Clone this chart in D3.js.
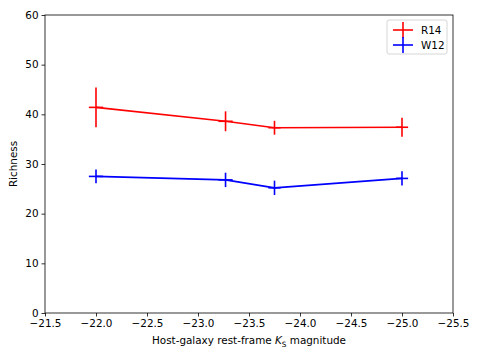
<!DOCTYPE html>
<html>
<head>
<meta charset="utf-8">
<script src="https://cdn.jsdelivr.net/npm/d3@7"></script>
<style>
body { margin: 0; background: #fff; }
text { font-family: "DejaVu Sans", sans-serif; }
</style>
</head>
<body>
<svg id="chart" width="479" height="360"></svg>
<script>
'use strict';
// data
var magnitudes = [-22.0, -23.27, -23.75, -25.0];
var magErr = [0.07, 0.07, 0.06, 0.06];
var r14 = [41.4, 38.6, 37.3, 37.4];
var r14Err = [4.0, 2.0, 1.4, 1.9];
var w12 = [27.5, 26.8, 25.2, 27.1];
var w12Err = [1.4, 1.45, 1.45, 1.45];
var xTicks = [-21.5, -22.0, -22.5, -23.0, -23.5, -24.0, -24.5, -25.0, -25.5];
var yTicks = [0, 10, 20, 30, 40, 50, 60];

var series = [
    {name: 'R14', color: '#ff0000', y: r14, err: r14Err},
    {name: 'W12', color: '#0000ff', y: w12, err: w12Err}
];

var fontSize = 10.4;
var margin = {left: 45, right: 26, top: 15, bottom: 47},
    width = 479 - margin.left - margin.right,
    height = 360 - margin.top - margin.bottom;

var svg = d3.select('#chart');
var g = svg.append('g').attr('transform', 'translate(' + margin.left + ',' + margin.top + ')');

var x = d3.scaleLinear().domain([-21.5, -25.5]).range([0, width]);
var y = d3.scaleLinear().domain([0, 60]).range([height, 0]);

var fmt = function(d){ return d3.format('.1f')(d).replace('-', '\u2212'); };

var xAxis = g.append('g')
    .attr('transform', 'translate(0,' + height + ')')
    .call(d3.axisBottom(x).tickValues(xTicks).tickFormat(fmt).tickSizeOuter(0).tickSize(3.5).tickPadding(3));
var yAxis = g.append('g')
    .call(d3.axisLeft(y).tickValues(yTicks).tickSizeOuter(0).tickSize(3.5).tickPadding(3));
[xAxis, yAxis].forEach(function(a){
    a.selectAll('text').attr('font-size', fontSize).attr('fill', '#000').attr('font-family', '"DejaVu Sans", sans-serif');
    a.select('.domain').remove();
    a.selectAll('line').attr('stroke', '#000').attr('stroke-width', 0.8);
});

// frame
g.append('rect').attr('width', width).attr('height', height)
    .attr('fill', 'none').attr('stroke', '#000').attr('stroke-width', 0.8);

var line = d3.line().x(function(d){ return x(d.x); }).y(function(d){ return y(d.y); });

series.forEach(function(s){
    var pts = magnitudes.map(function(m, i){
        return {x: m, y: s.y[i], ex: magErr[i], ey: s.err[i]};
    });
    g.append('path').datum(pts)
        .attr('d', line)
        .attr('fill', 'none')
        .attr('stroke', s.color)
        .attr('stroke-width', 1.6);
    var eb = g.append('g').selectAll('g').data(pts).enter().append('g');
    eb.append('line')
        .attr('x1', function(d){ return x(d.x); })
        .attr('x2', function(d){ return x(d.x); })
        .attr('y1', function(d){ return y(d.y - d.ey); })
        .attr('y2', function(d){ return y(d.y + d.ey); })
        .attr('stroke', s.color).attr('stroke-width', 1.6);
    eb.append('line')
        .attr('x1', function(d){ return x(d.x - d.ex); })
        .attr('x2', function(d){ return x(d.x + d.ex); })
        .attr('y1', function(d){ return y(d.y); })
        .attr('y2', function(d){ return y(d.y); })
        .attr('stroke', s.color).attr('stroke-width', 1.6);
});

// axis labels
g.append('text')
    .attr('x', width / 2).attr('y', height + 31)
    .attr('text-anchor', 'middle').attr('font-size', fontSize)
    .html('Host-galaxy rest-frame <tspan font-style="italic">K</tspan><tspan font-size="7.3" dy="2.5">S</tspan><tspan dy="-2.5"> magnitude</tspan>');
g.append('text')
    .attr('transform', 'translate(-28,' + (height / 2) + ') rotate(-90)')
    .attr('text-anchor', 'middle').attr('font-size', fontSize)
    .text('Richness');

// legend
var legend = g.append('g').attr('transform', 'translate(' + (width - 66) + ',5)');
legend.append('rect')
    .attr('width', 60).attr('height', 34).attr('rx', 2)
    .attr('fill', '#fff').attr('fill-opacity', 0.8)
    .attr('stroke', '#ccc').attr('stroke-width', 0.8);
series.forEach(function(s, i){
    var ly = 10 + i * 15;
    legend.append('line').attr('x1', 6).attr('x2', 26).attr('y1', ly).attr('y2', ly)
        .attr('stroke', s.color).attr('stroke-width', 1.6);
    legend.append('line').attr('x1', 16).attr('x2', 16).attr('y1', ly - 8).attr('y2', ly + 8)
        .attr('stroke', s.color).attr('stroke-width', 1.6);
    legend.append('text').attr('x', 34).attr('y', ly + 3.7)
        .attr('font-size', fontSize).text(s.name);
});
</script>
</body>
</html>
